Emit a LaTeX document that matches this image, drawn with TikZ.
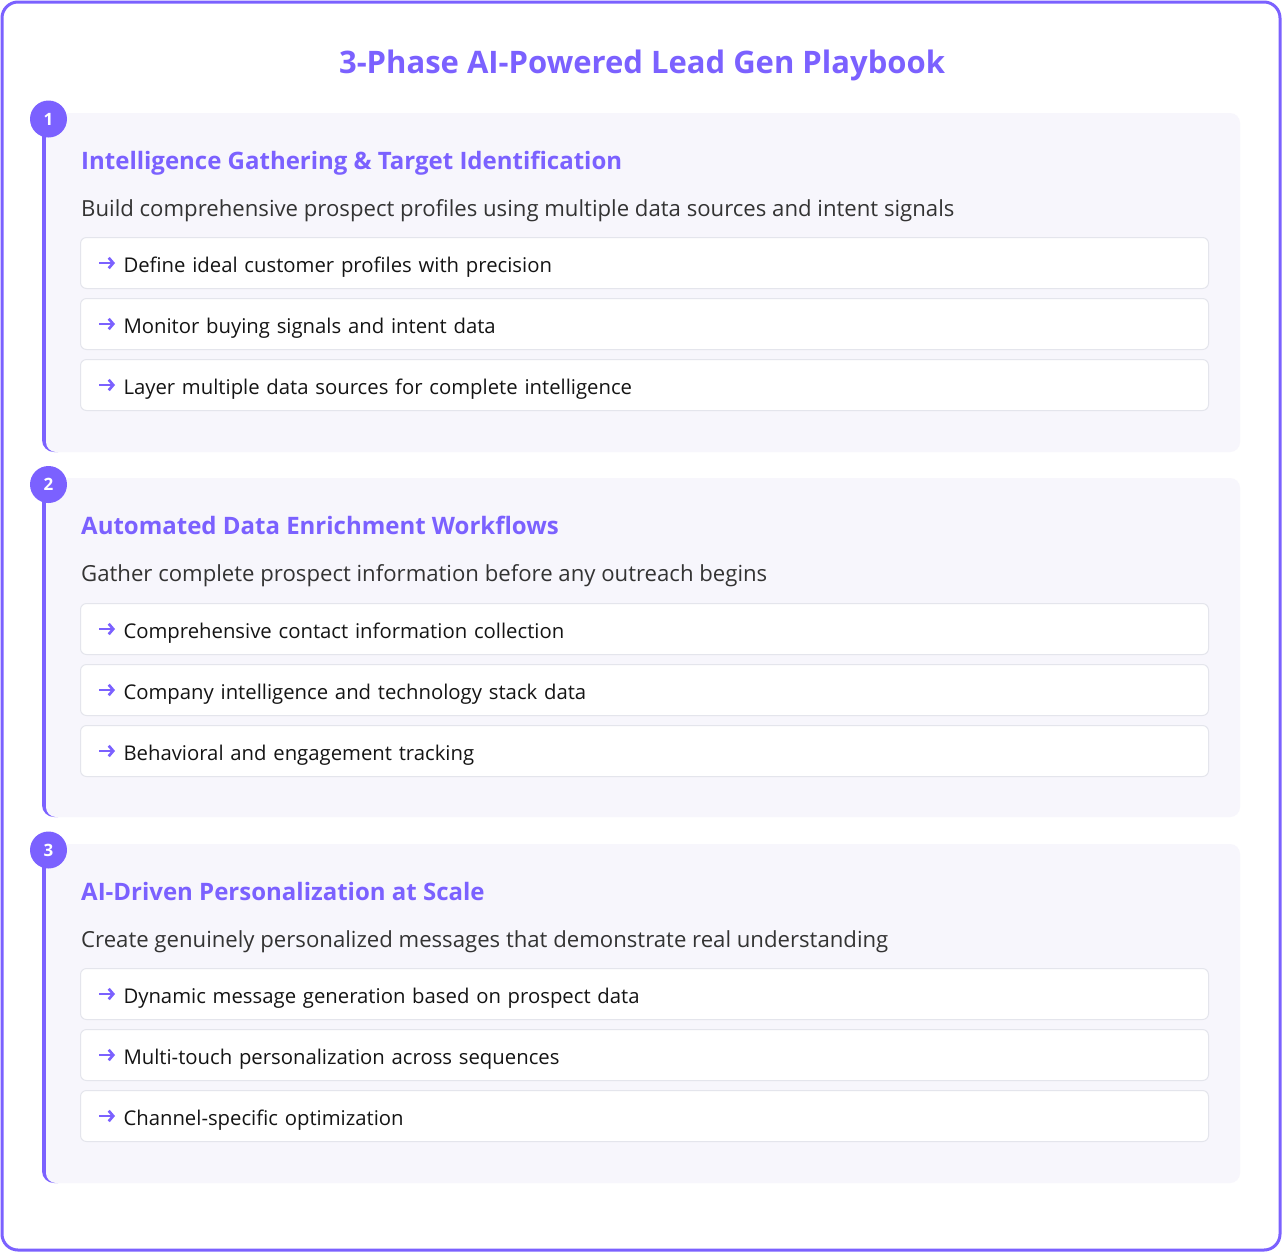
\documentclass[tikz,border=0pt]{standalone}
\usepackage{fontspec}
\usetikzlibrary{arrows.meta}
\setmainfont{Open Sans}
\definecolor{brand}{HTML}{7B61FF}
\definecolor{cardbg}{HTML}{F7F6FC}
\definecolor{itemline}{HTML}{E4E5EC}
\definecolor{desctext}{HTML}{333333}
\definecolor{itemtext}{HTML}{141414}

\begin{document}
\begin{tikzpicture}[
  x=1pt, y=-1pt,
  frame/.style={draw=brand, line width=3pt, rounded corners=16pt, fill=white},
  card/.style={fill=cardbg, rounded corners=10pt},
  bar/.style={fill=brand, rounded corners=12pt},
  num/.style={circle, fill=brand, minimum size=37pt, inner sep=0pt, text=white, font=\bfseries\fontsize{17}{17}\selectfont},
  title/.style={anchor=base, text=brand, inner sep=0pt, font=\bfseries\fontsize{31}{31}\selectfont},
  head/.style={anchor=base west, text=brand, inner sep=0pt, font=\bfseries\fontsize{24}{24}\selectfont},
  desc/.style={anchor=base west, text=desctext, inner sep=0pt, font=\fontsize{22.15}{22.15}\selectfont},
  item/.style={draw=itemline, fill=white, line width=1pt, rounded corners=6pt, anchor=north west,
    minimum width=1128pt, minimum height=51pt, inner xsep=43pt, inner ysep=0pt,
    text width=1042pt, text height=22pt, text depth=4pt, align=left, text=itemtext,
    font=\fontsize{20.3}{20.3}\selectfont},
  pointer/.style={brand, line width=2.7pt, -{Straight Barb[length=4.5pt, width=10.5pt]}}
]
\useasboundingbox (0,0) rectangle (1282,1254);
\draw [frame] (2,2) rectangle (1280,1250);
\node [title] (title) at (642,73) {3-Phase AI-Powered Lead Gen Playbook};

% left bars of the phase cards
\begin{scope}
\clip (0,0) rectangle (58,1254);
\path [bar] (42,113) rectangle (200,452);
\path [bar] (42,478) rectangle (200,817);
\path [bar] (42,844) rectangle (200,1183);
\end{scope}

% phase 1
\path [card] (46,113) rectangle (1240,452);
\node [num] (n1) at (48.5,119) {1};
\node [head] (head1) at (81,169) {Intelligence Gathering \& Target Identification};
\node [desc] (desc1) at (81,216) {Build comprehensive prospect profiles using multiple data sources and intent signals};
\node [item] (item1a) at (80,237) {Define ideal customer profiles with precision};
\node [item] (item1b) at (80,298) {Monitor buying signals and intent data};
\node [item] (item1c) at (80,359) {Layer multiple data sources for complete intelligence};

% phase 2
\path [card] (46,478) rectangle (1240,817);
\node [num] (n2) at (48.5,484.5) {2};
\node [head] (head2) at (81,534) {Automated Data Enrichment Workflows};
\node [desc] (desc2) at (81,581) {Gather complete prospect information before any outreach begins};
\node [item] (item2a) at (80,603) {Comprehensive contact information collection};
\node [item] (item2b) at (80,664) {Company intelligence and technology stack data};
\node [item] (item2c) at (80,725) {Behavioral and engagement tracking};

% phase 3
\path [card] (46,844) rectangle (1240,1183);
\node [num] (n3) at (48.5,850) {3};
\node [head] (head3) at (81,900) {AI-Driven Personalization at Scale};
\node [desc] (desc3) at (81,947) {Create genuinely personalized messages that demonstrate real understanding};
\node [item] (item3a) at (80,968) {Dynamic message generation based on prospect data};
\node [item] (item3b) at (80,1029) {Multi-touch personalization across sequences};
\node [item] (item3c) at (80,1090) {Channel-specific optimization};

% arrows in front of the items
\foreach \it in {item1a,item1b,item1c,item2a,item2b,item2c,item3a,item3b,item3c}
  \draw [pointer] ([xshift=19pt]\it.west) -- +(16,0);
\end{tikzpicture}
\end{document}
